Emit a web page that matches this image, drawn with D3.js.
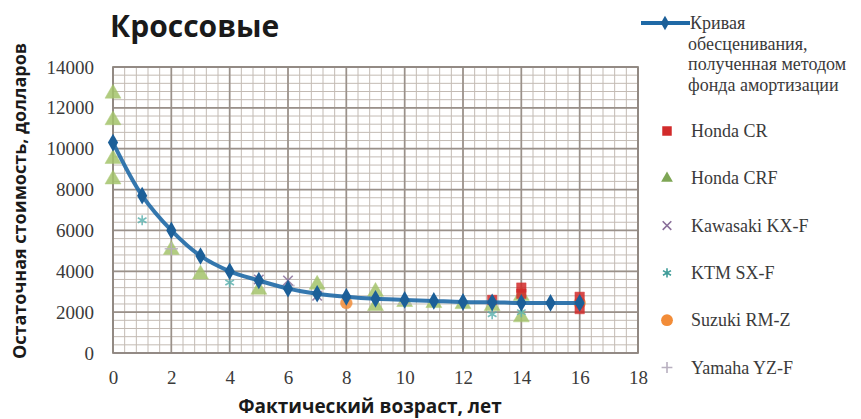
<!DOCTYPE html>
<html><head><meta charset="utf-8">
<script src="https://cdn.jsdelivr.net/npm/d3@7"></script>
<style>body{margin:0;background:#fff}svg{display:block}</style>
</head><body><svg id="c" width="861" height="419"></svg>
<script>
const title = "Кроссовые";
const yTitle = "Остаточная стоимость, долларов";
const xTitle = "Фактический возраст, лет";
const xTicks = [0,2,4,6,8,10,12,14,16,18];
const yTicks = [0,2000,4000,6000,8000,10000,12000,14000];

const curveAge = [0,1,2,3,4,5,6,7,8,9,10,11,12,13,14,15,16];
const curveValue = [10300,7700,6000,4750,4000,3550,3150,2900,2750,2650,2600,2550,2500,2480,2450,2450,2450];

const hondaCR = [[13,2600],[14,3200],[14,2900],[16,2750],[16,2150]];
const hondaCRF = [[0,12700],[0,11400],[0,9500],[0,8500],[2,5050],[3,3850],[5,3100],[7,3350],[9,3000],[9,2300],[10,2500],[11,2450],[12,2400],[13,2300],[14,2800],[14,1750]];
const kawasaki = [[5,3600],[6,3550],[7,2800]];
const ktm = [[1,6500],[4,3450],[13,1900],[14,2000]];
const suzuki = [[8,2450],[16,2450]];
const yamaha = [[2,5100],[6,3300],[10,2400]];

const legendLabels = ["Кривая","обесценивания,","полученная методом","фонда амортизации"];
const legendSeries = ["Honda CR","Honda CRF","Kawasaki KX-F","KTM SX-F","Suzuki RM-Z","Yamaha YZ-F"];

const svg = d3.select("#c");
const L=113,R=638,T=67,B=353;
const x = d3.scaleLinear().domain([0,18]).range([L,R]);
const y = d3.scaleLinear().domain([0,14000]).range([B,T]);

// minor grid
const g = svg.append("g");
g.selectAll(".mx").data(d3.range(0,18.01,0.4)).enter().append("line")
 .attr("x1",d=>x(d)).attr("x2",d=>x(d)).attr("y1",T).attr("y2",B)
 .attr("stroke","#c3bbb4").attr("stroke-width",1);
g.selectAll(".my").data(d3.range(0,14001,400)).enter().append("line")
 .attr("y1",d=>y(d)).attr("y2",d=>y(d)).attr("x1",L).attr("x2",R)
 .attr("stroke","#c3bbb4").attr("stroke-width",1);
// major grid
g.selectAll(".Mx").data(xTicks).enter().append("line")
 .attr("x1",d=>x(d)).attr("x2",d=>x(d)).attr("y1",T).attr("y2",B)
 .attr("stroke","#9a918a").attr("stroke-width",1.7);
g.selectAll(".My").data(yTicks).enter().append("line")
 .attr("y1",d=>y(d)).attr("y2",d=>y(d)).attr("x1",L).attr("x2",R)
 .attr("stroke","#9a918a").attr("stroke-width",1.7);
g.append("rect").attr("x",L).attr("y",T).attr("width",R-L).attr("height",B-T)
 .attr("fill","none").attr("stroke","#8f8780").attr("stroke-width",1.7);

// axes
const xa = svg.append("g").attr("transform",`translate(0,${B})`)
 .call(d3.axisBottom(x).tickValues(xTicks).tickSize(0).tickPadding(18));
const ya = svg.append("g").attr("transform",`translate(${L},0)`)
 .call(d3.axisLeft(y).tickValues(yTicks).tickSize(0).tickPadding(19).tickFormat(d3.format("d")));
[xa,ya].forEach(a=>{a.select(".domain").remove();
 a.selectAll("text").attr("font-family","Liberation Serif, serif").attr("font-size",19).attr("fill","#3a3a3a");});

// scatter series
const pts = svg.append("g");
function plot(data, sym, size, color){
 const open = sym===d3.symbolTimes||sym===d3.symbolPlus||sym===d3.symbolAsterisk;
 pts.selectAll(null).data(data).enter().append("path")
  .attr("d", d3.symbol().type(sym).size(size))
  .attr("transform", d=>`translate(${x(d[0])},${y(d[1])})`)
  .attr("fill", open ? "none" : color)
  .attr("stroke", color).attr("stroke-width", open?1.6:0.5)
  .attr("opacity",0.85);
}
plot(hondaCRF, d3.symbolTriangle, 110, "#a4c46b");
plot(yamaha, d3.symbolPlus, 60, "#b8b0c0");
plot(ktm, d3.symbolAsterisk, 70, "#5fb3b0");
plot(kawasaki, d3.symbolTimes, 60, "#8a6f9a");
plot(suzuki, d3.symbolCircle, 110, "#f28c38");
plot(hondaCR, d3.symbolSquare, 90, "#d22b2b");

// curve
svg.append("path").datum(curveAge.map((a,i)=>[a,curveValue[i]]))
 .attr("d", d3.line().x(d=>x(d[0])).y(d=>y(d[1])).curve(d3.curveCatmullRom))
 .attr("fill","none").attr("stroke","#1f69a6").attr("stroke-width",4).attr("opacity",0.9);
svg.append("g").selectAll("path").data(curveAge.map((a,i)=>[a,curveValue[i]])).enter().append("path")
 .attr("d", d3.symbol().type(d3.symbolDiamond).size(90))
 .attr("transform", d=>`translate(${x(d[0])},${y(d[1])})`)
 .attr("fill","#1c5f98");

// titles
svg.append("text").attr("x",110).attr("y",37).text(title)
 .attr("font-family","Open Sans, sans-serif").attr("font-weight","bold").attr("font-size",30).attr("fill","#1a1a1a");
svg.append("text").attr("transform","translate(26,201) rotate(-90)").attr("text-anchor","middle").text(yTitle)
 .attr("font-family","Open Sans, sans-serif").attr("font-weight","bold").attr("font-size",18).attr("fill","#1a1a1a");
svg.append("text").attr("x",370).attr("y",413).attr("text-anchor","middle").text(xTitle)
 .attr("font-family","Open Sans, sans-serif").attr("font-weight","bold").attr("font-size",19).attr("fill","#1a1a1a");

// legend
const lg = svg.append("g").attr("font-family","Liberation Serif, serif").attr("font-size",18).attr("fill","#3a3a3a");
lg.append("line").attr("x1",641).attr("x2",690).attr("y1",23).attr("y2",23).attr("stroke","#1f69a6").attr("stroke-width",4);
lg.append("path").attr("d",d3.symbol().type(d3.symbolDiamond).size(60)).attr("transform","translate(665,23)").attr("fill","#1c5f98");
lg.selectAll(".ll").data(legendLabels).enter().append("text")
 .attr("x",(d,i)=>i===0?690:688).attr("y",(d,i)=>29+i*20.5).text(d=>d);
const legSyms = [[d3.symbolSquare,90,"#d22b2b"],[d3.symbolTriangle,60,"#7ea655"],[d3.symbolTimes,50,"#8a6f9a"],[d3.symbolAsterisk,60,"#3f9c98"],[d3.symbolCircle,110,"#f28c38"],[d3.symbolPlus,40,"#b8b0c0"]];
legendSeries.forEach((s,i)=>{
 const yy = 131 + i*47.3;
 const sy = legSyms[i];
 const open = sy[0]===d3.symbolTimes||sy[0]===d3.symbolPlus||sy[0]===d3.symbolAsterisk;
 lg.append("path").attr("d",d3.symbol().type(sy[0]).size(sy[1]))
  .attr("transform",`translate(667,${yy})`)
  .attr("fill", open?"none":sy[2])
  .attr("stroke",sy[2]).attr("stroke-width",open?1.6:0);
 lg.append("text").attr("x",691).attr("y",yy+6).text(s);
});
</script></body></html>
